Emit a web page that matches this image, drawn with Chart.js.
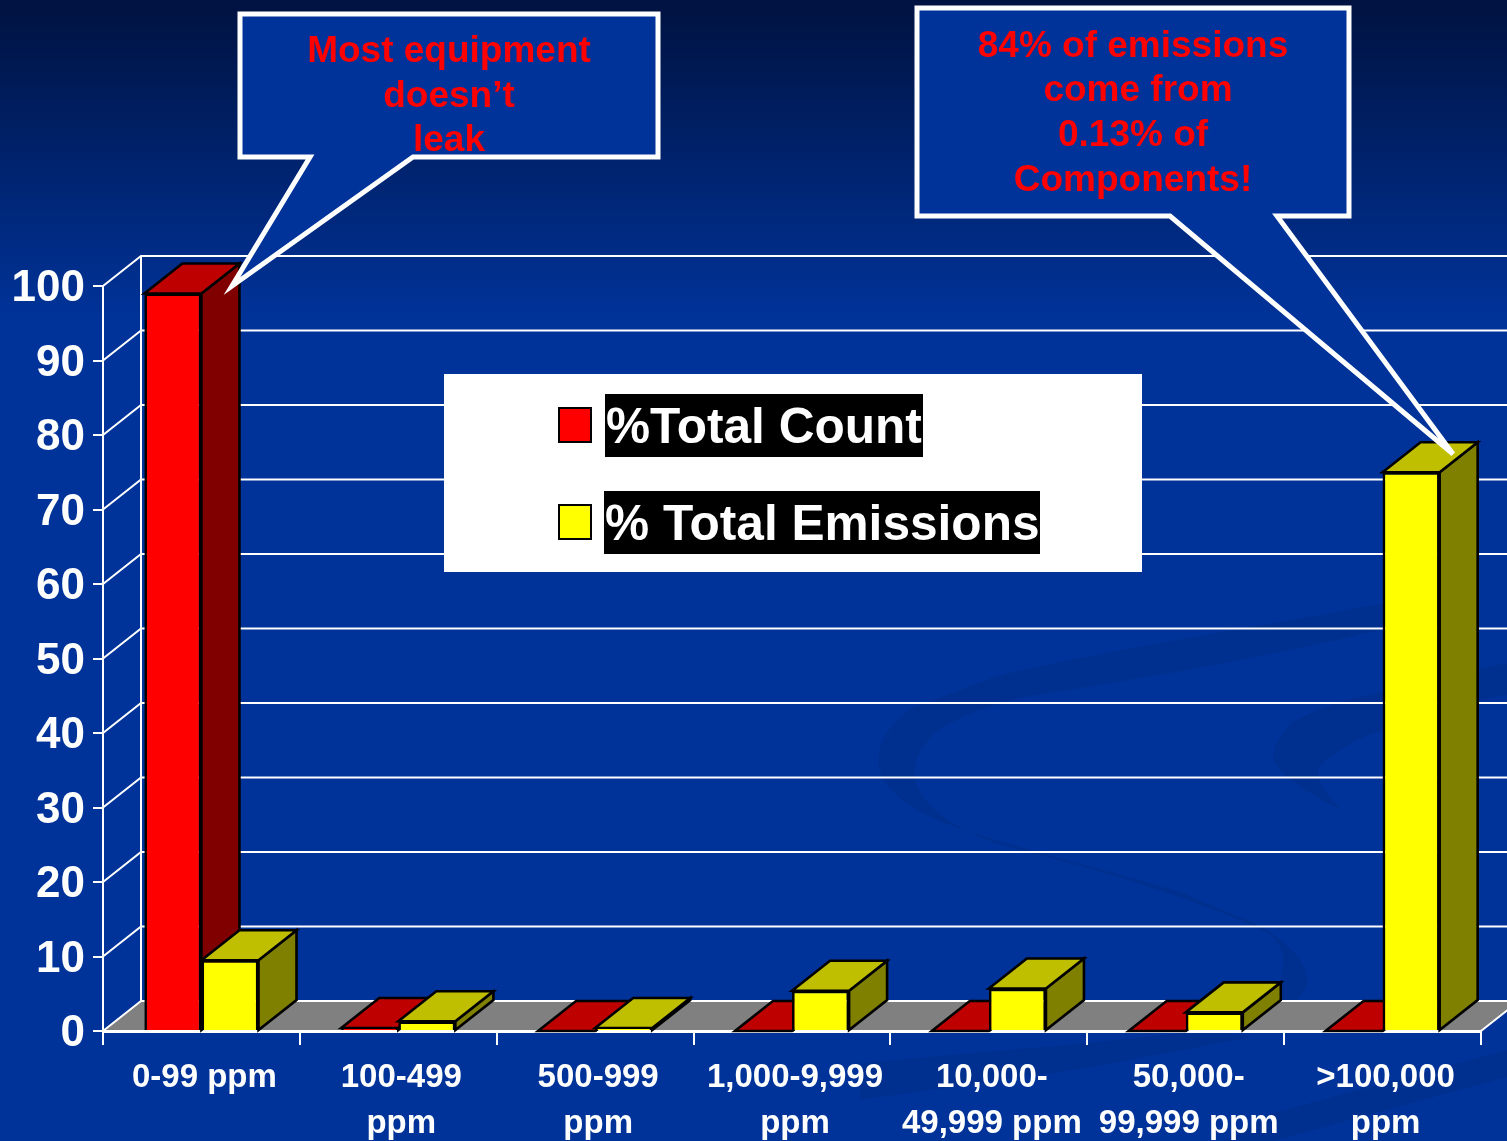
<!DOCTYPE html>
<html><head><meta charset="utf-8">
<style>html,body{margin:0;padding:0;background:#003399;overflow:hidden}canvas{display:block}</style>
<script src="https://cdn.jsdelivr.net/npm/chart.js@4"></script>
</head><body>
<canvas id="c" width="1507" height="1141"></canvas>
<script>
const categories = [["0-99 ppm"],["100-499","ppm"],["500-999","ppm"],["1,000-9,999","ppm"],["10,000-","49,999 ppm"],["50,000-","99,999 ppm"],[">100,000","ppm"]];
const totalCount = [99, 0.4, 0, 0, 0, 0, 0];
const totalEmissions = [9.5, 1.3, 0.4, 5.4, 5.7, 2.5, 75];
const seriesNames = ["%Total Count", "% Total Emissions"];
const calloutLeft = ["Most equipment","doesn\u2019t","leak"];
const calloutRight = ["84% of emissions","come from","0.13% of","Components!"];
const calloutRightShift = [0,5,0,0];

const FONT = '"Liberation Sans", Arial, sans-serif';
const DX = 38, DY = 30;
const FACES = [{front:'#FF0000',top:'#BF0000',side:'#800000'},{front:'#FFFF00',top:'#BFBF00',side:'#808000'}];

function poly(ctx, pts, fill, stroke, lw){
  ctx.beginPath();
  pts.forEach((p,i)=> i?ctx.lineTo(p[0],p[1]):ctx.moveTo(p[0],p[1]));
  ctx.closePath();
  if(fill){ctx.fillStyle=fill;ctx.fill();}
  if(stroke){ctx.strokeStyle=stroke;ctx.lineWidth=lw;ctx.lineJoin='miter';ctx.stroke();}
}
function swirls(ctx){
  ctx.fillStyle='#00308F';
  // large ribbon
  ctx.beginPath();
  ctx.moveTo(1400,600);
  ctx.bezierCurveTo(1300,620,1100,650,994,677);
  ctx.bezierCurveTo(950,695,915,705,904,713);
  ctx.bezierCurveTo(885,730,878,745,878,765);
  ctx.bezierCurveTo(885,795,915,810,944,823);
  ctx.bezierCurveTo(1020,850,1110,870,1183,893);
  ctx.bezierCurveTo(1220,910,1250,920,1264,928);
  ctx.bezierCurveTo(1290,945,1305,960,1308,980);
  ctx.bezierCurveTo(1305,995,1295,1005,1275,1012);
  ctx.bezierCurveTo(1280,985,1285,965,1282,952);
  ctx.bezierCurveTo(1275,935,1265,930,1240,920);
  ctx.bezierCurveTo(1140,880,1060,860,1000,845);
  ctx.bezierCurveTo(965,832,935,815,922,795);
  ctx.bezierCurveTo(910,775,912,755,935,733);
  ctx.bezierCurveTo(960,715,990,705,1025,697);
  ctx.bezierCurveTo(1130,680,1260,660,1400,625);
  ctx.closePath();
  ctx.fill();
  // small ribbon
  ctx.beginPath();
  ctx.moveTo(1507,663);
  ctx.bezierCurveTo(1450,675,1420,682,1382,692);
  ctx.bezierCurveTo(1340,700,1310,712,1291,723);
  ctx.bezierCurveTo(1278,738,1273,748,1273,760);
  ctx.bezierCurveTo(1285,780,1315,797,1341,810);
  ctx.bezierCurveTo(1328,795,1318,785,1318,770);
  ctx.bezierCurveTo(1328,755,1350,742,1382,730);
  ctx.bezierCurveTo(1420,715,1470,700,1507,695);
  ctx.closePath();
  ctx.fill();
  // bottom bands
  ctx.beginPath();
  ctx.moveTo(860,1063);
  ctx.lineTo(1087,1043);
  ctx.lineTo(1211,1030);
  ctx.lineTo(1252,1037);
  ctx.lineTo(1087,1068);
  ctx.lineTo(860,1100);
  ctx.closePath();
  ctx.fill();
  ctx.beginPath();
  ctx.moveTo(1507,1050);
  ctx.lineTo(1273,1113);
  ctx.lineTo(1224,1141);
  ctx.lineTo(1273,1141);
  ctx.lineTo(1507,1077);
  ctx.closePath();
  ctx.fill();
}
const scene = {
  id:'scene',
  beforeDraw(chart){
    const {ctx,scales:{x,y}} = chart;
    ctx.save();
    const g = ctx.createLinearGradient(0,0,0,320);
    g.addColorStop(0,'#001240'); g.addColorStop(1,'#003399');
    ctx.fillStyle=g; ctx.fillRect(0,0,chart.width,chart.height);
    swirls(ctx);
    const y0=y.getPixelForValue(0), l=x.left, r=x.right;
    poly(ctx,[[l,y0],[l+DX,y0-DY],[r+DX,y0-DY],[r,y0]],'#808080');
    ctx.strokeStyle='#FFFFFF'; ctx.lineWidth=2;
    y.ticks.forEach(t=>{
      const p=y.getPixelForValue(t.value);
      ctx.beginPath();
      ctx.moveTo(l,p); ctx.lineTo(l+DX,p-DY); ctx.lineTo(chart.width,p-DY);
      ctx.stroke();
    });
    ctx.beginPath();
    ctx.moveTo(l+DX,y.getPixelForValue(100)-DY); ctx.lineTo(l+DX,y0-DY);
    ctx.moveTo(r,y0); ctx.lineTo(r+DX,y0-DY);
    ctx.stroke();
    ctx.restore();
  },
  beforeDatasetsDraw(chart){
    const {ctx} = chart;
    ctx.save();
    chart.data.datasets.forEach((ds,i)=>{
      const f=FACES[i];
      chart.getDatasetMeta(i).data.forEach(b=>{
        const L=b.x-b.width/2, R=b.x+b.width/2, T=b.y, B=b.base;
        poly(ctx,[[R,T],[R+DX,T-DY],[R+DX,B-DY],[R,B]],f.side,'#000000',2.6);
        poly(ctx,[[L,T],[L+DX,T-DY],[R+DX,T-DY],[R,T]],f.top,'#000000',2.6);
      });
    });
    ctx.restore();
  },
  afterDraw(chart){
    const {ctx} = chart;
    ctx.save();
    // legend
    ctx.fillStyle='#FFFFFF'; ctx.fillRect(444,374,698,198);
    const rows=[{sy:408,by:394,bx:605,bw:318},{sy:505,by:491,bx:604,bw:436}];
    ctx.textBaseline='middle'; ctx.textAlign='left';
    ctx.font='bold 49.6px '+FONT;
    rows.forEach((r,i)=>{
      ctx.fillStyle=FACES[i].front; ctx.strokeStyle='#000000'; ctx.lineWidth=2;
      ctx.fillRect(559,r.sy,32,34); ctx.strokeRect(559,r.sy,32,34);
      ctx.fillStyle='#000000'; ctx.fillRect(r.bx,r.by,r.bw,63);
      ctx.fillStyle='#FFFFFF'; ctx.fillText(chart.data.datasets[i].label,r.bx+1,r.by+35);
    });
    // callouts
    ctx.miterLimit=6;
    const fill='#003399';
    poly(ctx,[[240,14],[658,14],[658,157],[413,157],[232,286],[310,157],[240,157]],fill,'#FFFFFF',5);
    poly(ctx,[[917,8],[1349,8],[1349,216],[1277,216],[1453,454],[1170,216],[917,216]],fill,'#FFFFFF',5);
    ctx.fillStyle='#FF0000'; ctx.textAlign='center';
    ctx.font='bold 37px '+FONT;
    calloutLeft.forEach((t,i)=>ctx.fillText(t,449,52+i*44.5));
    calloutRight.forEach((t,i)=>ctx.fillText(t,1133+calloutRightShift[i],46.5+i*44.7));
    ctx.restore();
  }
};
new Chart(document.getElementById('c'),{
  type:'bar',
  data:{labels:categories,datasets:[
    {label:seriesNames[0],data:totalCount,backgroundColor:FACES[0].front,borderColor:'#000000',borderWidth:2.6},
    {label:seriesNames[1],data:totalEmissions,backgroundColor:FACES[1].front,borderColor:'#000000',borderWidth:2.6}
  ]},
  plugins:[scene],
  options:{
    responsive:false,animation:false,devicePixelRatio:1,
    layout:{padding:{top:286,right:26,left:0,bottom:0},autoPadding:false},
    categoryPercentage:0.58,barPercentage:1,
    plugins:{legend:{display:false},tooltip:{enabled:false},title:{display:false}},
    scales:{
      x:{
        afterFit(s){s.height=110;},
        grid:{drawOnChartArea:false,color:'#FFFFFF',lineWidth:2,tickLength:14,offset:true},
        border:{color:'#FFFFFF',width:3},
        ticks:{color:'#FFFFFF',font:{family:FONT,weight:'bold',size:33,lineHeight:1.39},padding:10,labelOffset:3,maxRotation:0,minRotation:0,autoSkip:false}
      },
      y:{
        min:0,max:100,
        afterFit(s){s.width=103;},
        grid:{drawOnChartArea:false,color:'#FFFFFF',lineWidth:2,tickLength:10},
        border:{color:'#FFFFFF',width:2},
        ticks:{stepSize:10,color:'#FFFFFF',font:{family:FONT,weight:'bold',size:44},padding:8,labelOffset:3}
      }
    }
  }
});
</script>
</body></html>
